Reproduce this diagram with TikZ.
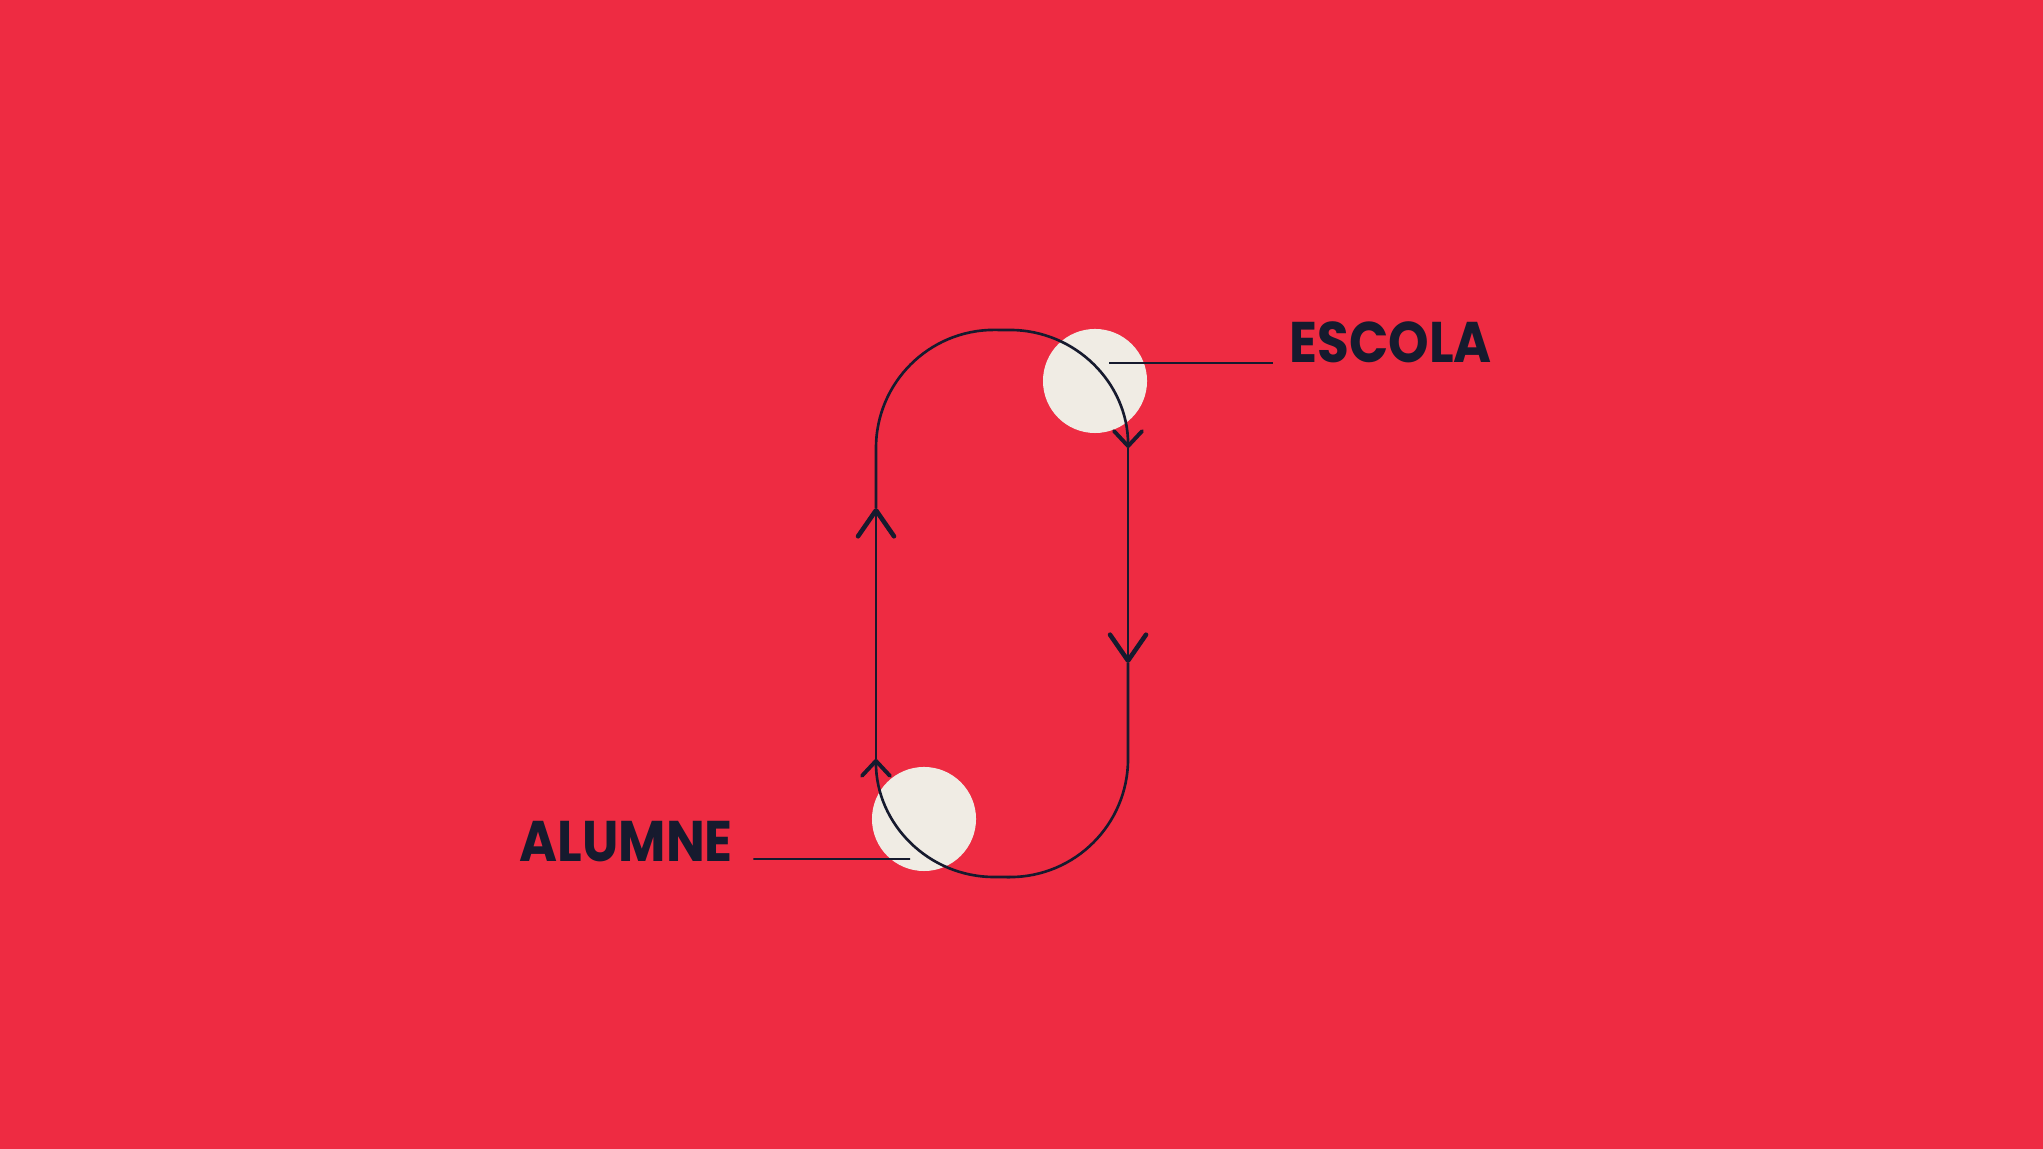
\documentclass[tikz,border=0pt]{standalone}
\usepackage{fontspec}
\usetikzlibrary{arrows.meta}
\newfontfamily\labelfont{Poppins}[FakeStretch=0.9]
\definecolor{bgred}{HTML}{EE2B42}
\definecolor{cream}{HTML}{F0ECE4}
\definecolor{ink}{HTML}{161A2E}

\begin{document}
\begin{tikzpicture}[x=0.01cm, y=0.01cm,
        loopline/.style={draw=ink, line width=0.75pt},
        dot/.style={shape=circle, fill=cream, minimum size=1.04cm, inner sep=0pt},
        tagtext/.style={text=ink, inner sep=0pt, anchor=base west, font=\labelfont\bfseries\fontsize{16.3}{18}\selectfont},
        leader/.style={draw=ink, line width=0.55pt},
        bigtip/.style={-{Straight Barb[length=0.26cm, width=0.36cm, line width=1.3pt, round]}},
        smalltip/.style={-{Straight Barb[length=0.15cm, width=0.28cm, line width=1.1pt, round]}}]
        \fill[bgred] (0,0) rectangle (2043,1149);

        \node[dot] (escola) at (1095,768) {};
        \node[dot] (alumne) at (924,330) {};
        \node[tagtext] (escolatext) at (1289,786) {ESCOLA};
        \node[tagtext] (alumnetext) at (519,287) {ALUMNE};
        \coordinate (escolapin) at (1109,786);
        \coordinate (alumnepin) at (910,290);

        % the loop, clockwise
        \draw[loopline, smalltip] (1010,272) -- (994,272) arc[start angle=270, end angle=180, radius=1.18cm];
        \draw[loopline, bigtip] (876,390) -- (876,641);
        \draw[loopline, smalltip] (876,641) -- (876,701) arc[start angle=180, end angle=90, radius=1.18cm]
            -- (1010,819) arc[start angle=90, end angle=0, radius=1.18cm];
        \draw[loopline, bigtip] (1128,701) -- (1128,486);
        \draw[loopline] (1128,486) -- (1128,390) arc[start angle=0, end angle=-90, radius=1.18cm] -- (1010,272);

        \draw[leader] (escolapin) -- ([xshift=-0.16cm]escolatext.base west);
        \draw[leader] ([xshift=0.2cm, yshift=0.03cm]alumnetext.base east) -- (alumnepin);
    \end{tikzpicture}
\end{document}
